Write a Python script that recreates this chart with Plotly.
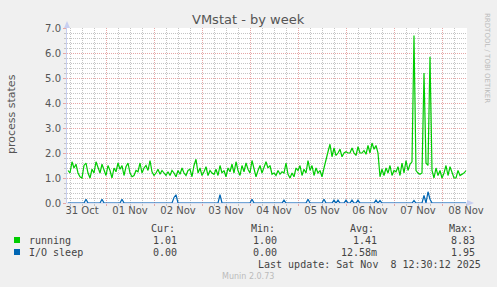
import pandas as pd
import plotly.graph_objects as go

# ---------------- data ----------------
start_time = "2025-10-31 04:30"
end_time = "2025-11-08 12:30"
step = "1h"

running = [
    1.3, 1.2, 1.65, 1.4, 1.55, 1.2, 1.05, 1.0, 1.5, 1.6,
    1.2, 1.0, 1.35, 1.2, 1.65, 1.4, 1.2, 1.55, 1.3, 1.1,
    1.5, 1.3, 1.0, 1.4, 1.25, 1.6, 1.35, 1.5, 1.1, 1.45,
    1.6, 1.2, 1.05, 1.1, 1.3, 1.25, 1.6, 1.2, 1.4, 1.5,
    1.3, 1.7, 1.25, 1.1, 1.2, 1.35, 1.15, 1.3, 1.2, 1.1,
    1.25, 1.1, 1.3, 1.2, 1.05, 1.3, 1.15, 1.4, 1.2, 1.1,
    1.3, 1.35, 1.05, 1.5, 1.75, 1.2, 1.4, 1.1, 1.25, 1.45,
    1.1, 1.3, 1.2, 1.15, 1.35, 1.1, 1.5, 1.2, 1.3, 1.05,
    1.4, 1.25, 1.55, 1.2, 1.65, 1.3, 1.1, 1.5, 1.25, 1.6,
    1.35, 1.2, 1.7, 1.4, 1.05, 1.3, 1.5, 1.2, 1.45, 1.65,
    1.4, 1.5, 1.15, 1.2, 1.1, 1.3, 1.15, 1.25, 1.2, 1.6,
    1.15, 1.0, 1.2, 1.05, 1.4, 1.3, 1.5, 1.1, 1.35, 1.2,
    1.7, 1.3, 1.5, 1.1, 1.4, 1.2, 1.3, 1.05, 1.4, 1.8,
    2.05, 2.35, 1.85, 2.2, 1.9, 2.0, 2.15, 1.85, 2.0, 2.05,
    2.0, 2.0, 2.2, 2.0, 1.9, 2.25, 2.0, 2.0, 2.1, 1.95,
    2.3, 2.0, 2.4, 2.15, 2.3, 2.0, 1.05, 1.35, 1.1, 1.4,
    1.2, 1.5, 1.1, 1.3, 1.25, 1.45, 1.1, 1.6, 1.2, 1.7,
    1.3, 1.55, 1.65, 6.7, 1.3, 1.2, 1.15, 1.2, 5.2, 1.6,
    1.5, 5.85, 1.3, 1.0, 1.4, 1.1, 1.3, 1.0, 1.2, 1.5,
    1.1, 1.45, 1.2, 1.0, 1.0, 1.3, 1.1, 1.15, 1.2, 1.3,
]

io_sleep = [0.0] * 200
io_spikes = {
    9: 0.15, 17: 0.15, 27: 0.15, 53: 0.22, 54: 0.33, 76: 0.33, 92: 0.15,
    108: 0.12, 120: 0.15, 128: 0.15, 133: 0.12, 135: 0.12, 139: 0.12,
    142: 0.12, 145: 0.12, 154: 0.12, 156: 0.1, 173: 0.1, 178: 0.3,
    180: 0.45, 181: 0.15,
}
for k, v in io_spikes.items():
    io_sleep[k] = v

day_labels = ["31 Oct", "01 Nov", "02 Nov", "03 Nov", "04 Nov",
              "05 Nov", "06 Nov", "07 Nov", "08 Nov"]
label_dates = ["2025-10-31 12:00", "2025-11-01 12:00", "2025-11-02 12:00",
               "2025-11-03 12:00", "2025-11-04 12:00", "2025-11-05 12:00",
               "2025-11-06 12:00", "2025-11-07 12:00", "2025-11-08 12:00"]
midnights = ["2025-11-01", "2025-11-02", "2025-11-03", "2025-11-04",
             "2025-11-05", "2025-11-06", "2025-11-07", "2025-11-08"]

legend_names = ["running", "I/O sleep"]
legend_cur = ["1.01", "0.00"]
legend_min = ["1.00", "0.00"]
legend_avg = ["1.41", "12.58m"]
legend_max = ["8.83", "1.95"]
series_colors = ["#00CC00", "#0066B3"]

# ---------------- figure ----------------
times = pd.date_range(pd.Timestamp(start_time) + pd.Timedelta("30min"),
                      periods=len(running), freq=step)

W, H = 497, 287
L, R, T, B = 67, 467, 28, 203  # plot area in pixels


def px(x):
    return (x - L) / (R - L)


def py(y):
    return (B - y) / (B - T)


fig = go.Figure()
fig.add_trace(go.Scatter(x=times, y=running, mode="lines",
                         line=dict(color=series_colors[0], width=1.2),
                         showlegend=False, hoverinfo="skip"))
fig.add_trace(go.Scatter(x=times, y=io_sleep, mode="lines",
                         line=dict(color=series_colors[1], width=1.2),
                         showlegend=False, hoverinfo="skip"))
# helper trace to carry the label axis
fig.add_trace(go.Scatter(x=[start_time, end_time], y=[0, 0], xaxis="x2",
                         mode="lines", line=dict(width=0), opacity=0,
                         showlegend=False, hoverinfo="skip"))

major = "#E6A6A6"
minor = "#C4C4C4"
dotted = "1px,1px"
tickfont = dict(family="DejaVu Sans", size=10, color="#555555")
xrange = [start_time, end_time]

fig.update_layout(
    width=W, height=H,
    margin=dict(l=L, r=W - R, t=T, b=H - B),
    paper_bgcolor="#F0F0F0",
    plot_bgcolor="#FFFFFF",
    xaxis=dict(
        range=xrange, type="date",
        tickvals=midnights, showticklabels=False,
        ticks="outside", ticklen=2, tickcolor=major,
        showgrid=True, gridcolor=major, griddash=dotted, gridwidth=1,
        minor=dict(dtick=6 * 3600 * 1000, tick0="2025-11-01",
                   showgrid=True, gridcolor=minor, griddash=dotted,
                   gridwidth=1, ticks="outside", ticklen=2, tickcolor=minor),
        showline=False, zeroline=False, fixedrange=True,
    ),
    xaxis2=dict(
        range=xrange, type="date", overlaying="x", anchor="y", side="bottom",
        tickvals=label_dates, ticktext=day_labels, showgrid=False,
        ticks="", tickfont=tickfont, showline=False, zeroline=False,
    ),
    yaxis=dict(
        range=[0, 7], dtick=1, tick0=0, tickformat=".1f",
        showgrid=True, gridcolor=major, griddash=dotted, gridwidth=1,
        minor=dict(dtick=0.2, showgrid=True, gridcolor=minor,
                   griddash=dotted, gridwidth=1, ticks="outside",
                   ticklen=2, tickcolor=minor),
        ticks="outside", ticklen=3, tickcolor=major,
        tickfont=tickfont, zeroline=False,
        showline=True, linecolor="#C8CFF0", linewidth=1,
    ),
)

shapes = []
# axis arrows
shapes.append(dict(type="path", xref="paper", yref="paper",
                   path=f"M {px(64)} {py(28)} L {px(70)} {py(28)} L {px(67)} {py(21)} Z",
                   fillcolor="#C8CFF0", line=dict(width=0)))
shapes.append(dict(type="line", xref="paper", yref="paper",
                   x0=0, x1=px(470), y0=0, y1=0,
                   line=dict(color="#C8CFF0", width=1), layer="below"))
shapes.append(dict(type="path", xref="paper", yref="paper",
                   path=f"M {px(467)} {py(200)} L {px(467)} {py(206)} L {px(474)} {py(203)} Z",
                   fillcolor="#C8CFF0", line=dict(width=0)))
# legend squares
for i, c in enumerate(series_colors):
    yc = 240 + 12 * i
    shapes.append(dict(type="rect", xref="paper", yref="paper",
                       x0=px(14), x1=px(20), y0=py(yc - 3), y1=py(yc + 3),
                       fillcolor=c, line=dict(width=0)))
fig.update_layout(shapes=shapes)

ann = []
mono = dict(family="DejaVu Sans Mono", size=10, color="#444444")


def text(x, y, s, xanchor="left", font=mono, **kw):
    ann.append(dict(x=px(x), y=py(y), xref="paper", yref="paper", text=s,
                    showarrow=False, xanchor=xanchor, yanchor="middle",
                    font=font, **kw))


text(248, 19, "VMstat - by week", "center",
     dict(family="DejaVu Sans", size=13, color="#555555"))
text(11, 114, "process states", "center",
     dict(family="DejaVu Sans", size=11, color="#555555"), textangle=-90)
text(487, 58, "RRDTOOL / TOBI OETIKER", "center",
     dict(family="DejaVu Sans", size=7, color="#BBBBBB"), textangle=90)

text(149, 228, "Cur:")
text(249, 228, "Min:")
text(348, 228, "Avg:")
text(447, 228, "Max:")
for i in range(2):
    yy = 240 + 12 * i
    text(27, yy, legend_names[i])
    text(179, yy, legend_cur[i], "right")
    text(279, yy, legend_min[i], "right")
    text(379, yy, legend_avg[i], "right")
    text(477, yy, legend_max[i], "right")
text(483, 264, "Last update: Sat Nov  8 12:30:12 2025", "right")
text(248, 276, "Munin 2.0.73", "center",
     dict(family="DejaVu Sans", size=8, color="#BBBBBB"))

fig.update_layout(annotations=ann)
fig.write_html("out.html")
